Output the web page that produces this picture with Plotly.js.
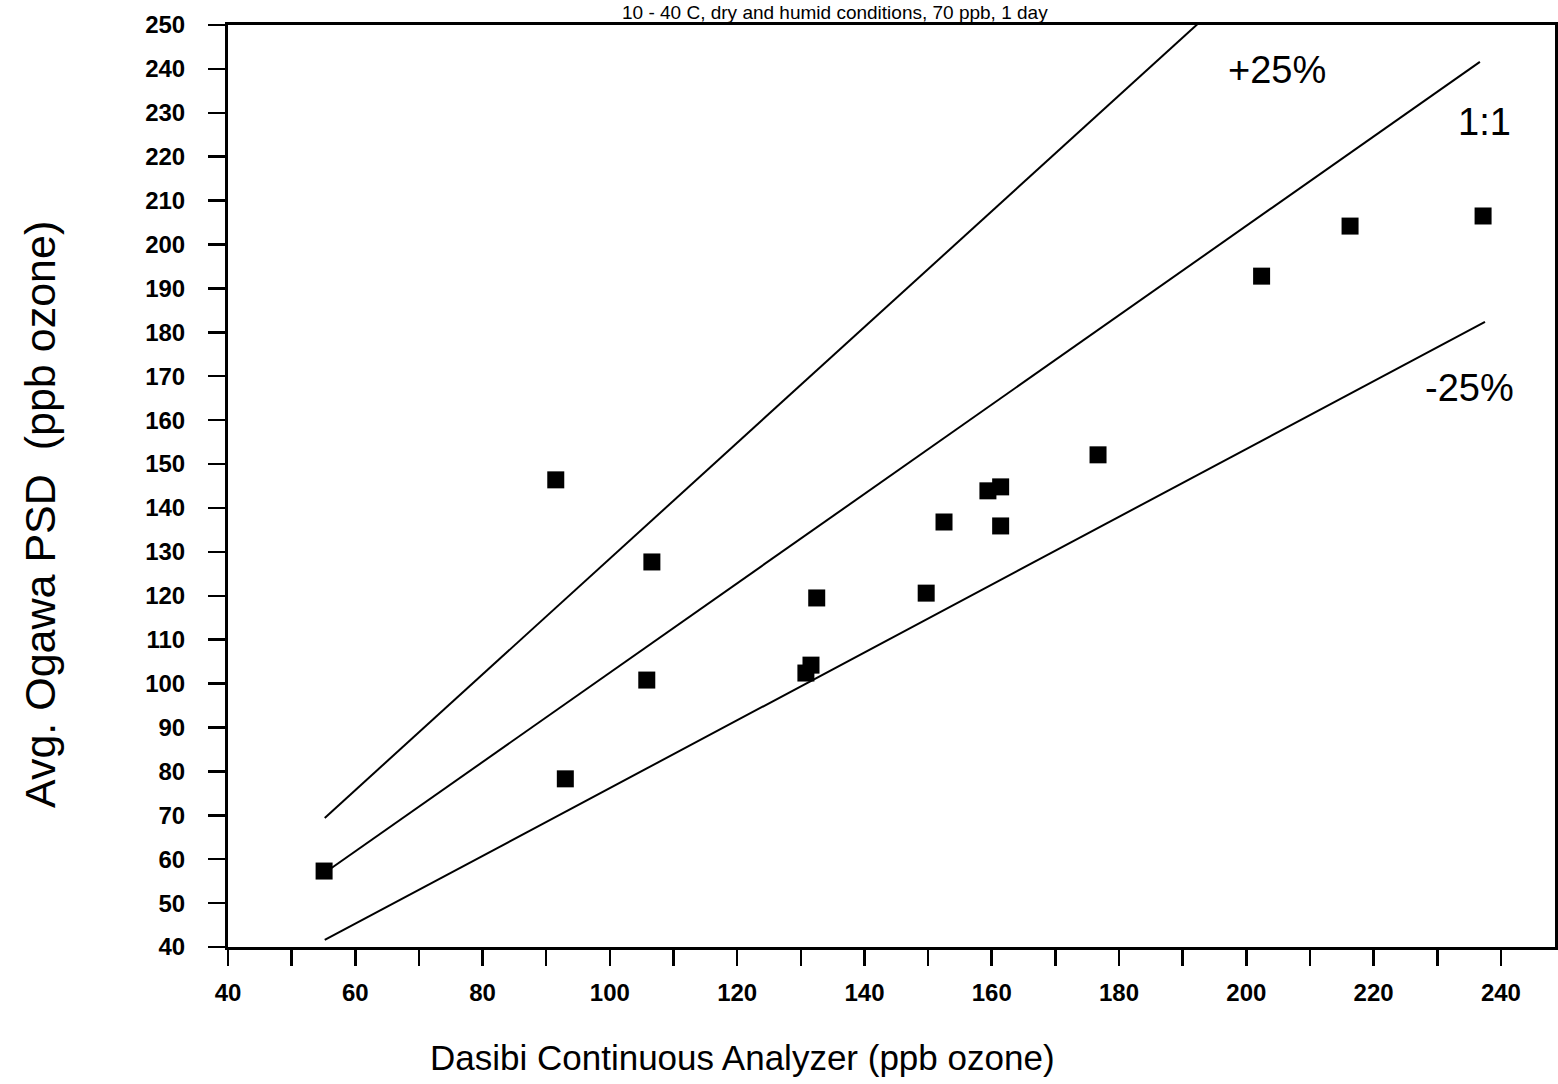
<!DOCTYPE html>
<html>
<head>
<meta charset="utf-8">
<script src="https://cdn.plot.ly/plotly-3.0.1.min.js"></script>
<style>
  html, body { margin: 0; padding: 0; background: #fff; }
  #chart { width: 1558px; height: 1084px; }
</style>
</head>
<body>
<div id="chart"></div>
<script>
// Measured points: Dasibi continuous analyzer (x) vs average Ogawa PSD (y), ppb ozone
const dasibi = [55.1, 91.5, 93.0, 105.8, 106.6, 130.8, 131.6, 132.5, 149.7, 152.5, 159.4, 161.4, 161.4, 176.7, 202.4, 216.3, 237.2];
const ogawa  = [57.3, 146.4, 78.3, 100.8, 127.7, 102.4, 104.2, 119.5, 120.6, 136.8, 143.9, 144.8, 135.9, 152.1, 192.8, 204.2, 206.5];

// Reference lines, end points
const upperX = [55.2, 199.0];
const upperY = [69.4, 259.0];
const oneX   = [55.2, 236.7];
const oneY   = [56.9, 241.6];
const lowerX = [55.2, 237.5];
const lowerY = [41.6, 182.4];

// Line labels
const labelText = ["+25%", "1:1", "-25%"];
const labelX    = [204.8, 237.5, 235.1];
const labelY    = [239.8, 227.9, 167.3];

const titleText  = "10 - 40 C, dry and humid conditions, 70 ppb, 1 day";
const xTitleText = "Dasibi Continuous Analyzer (ppb ozone)";
const yTitleText = "Avg. Ogawa PSD&nbsp;&nbsp;(ppb ozone)";

const FONT = "Liberation Sans, Arial, Helvetica, sans-serif";

// plot area in pixels (for placing the free texts)
const PL = 228, PR = 1555, PT = 25, PB = 947;

const lineStyle = {color: "#000", width: 2};
const traces = [
  {x: upperX, y: upperY, mode: "lines", line: lineStyle, hoverinfo: "skip", name: "+25%"},
  {x: oneX, y: oneY, mode: "lines", line: lineStyle, hoverinfo: "skip", name: "1:1"},
  {x: lowerX, y: lowerY, mode: "lines", line: lineStyle, hoverinfo: "skip", name: "-25%"},
  {x: dasibi, y: ogawa, mode: "markers", name: "data",
   marker: {symbol: "square", size: 17, color: "#000", line: {width: 0}}}
];

const annotations = labelText.map((t, i) => ({
  x: labelX[i], y: labelY[i], xref: "x", yref: "y", text: t, showarrow: false,
  font: {family: FONT, size: 38, color: "#000"}, xanchor: "center", yanchor: "middle"
}));
// chart title (only a strip above the frame is available)
annotations.push({
  x: (835 - PL) / (PR - PL), y: 1, xref: "paper", yref: "paper",
  xanchor: "center", yanchor: "bottom", yshift: 1, showarrow: false, text: titleText,
  font: {family: FONT, size: 19, color: "#000"}, borderpad: 0
});
// x axis title
annotations.push({
  x: (742 - PL) / (PR - PL), y: (PB - 1057) / (PB - PT), xref: "paper", yref: "paper",
  xanchor: "center", yanchor: "middle", showarrow: false, text: xTitleText,
  font: {family: FONT, size: 35, color: "#000"}
});
// y axis title
annotations.push({
  x: (40 - PL) / (PR - PL), y: (PB - 515) / (PB - PT), xref: "paper", yref: "paper",
  xanchor: "center", yanchor: "middle", showarrow: false, text: yTitleText, textangle: -90,
  font: {family: FONT, size: 43, color: "#000"}
});

const layout = {
  width: 1558, height: 1084,
  margin: {l: PL, r: 1558 - PR, t: PT, b: 1084 - PB},
  paper_bgcolor: "#fff", plot_bgcolor: "#fff",
  showlegend: false,
  font: {family: FONT, color: "#000"},
  xaxis: {
    range: [40, 248.5], showgrid: false, zeroline: false,
    showline: true, linecolor: "#000", linewidth: 3, mirror: true,
    ticks: "outside", ticklen: 16, tickwidth: 2.5, tickcolor: "#000",
    tick0: 40, dtick: 20, tickfont: {family: FONT, size: 24, color: "#000", weight: "bold"},
    ticklabelstandoff: 6,
    minor: {dtick: 10, tick0: 40, ticks: "outside", ticklen: 16, tickwidth: 2.5, tickcolor: "#000", showgrid: false}
  },
  yaxis: {
    range: [40, 250], showgrid: false, zeroline: false,
    showline: true, linecolor: "#000", linewidth: 3, mirror: true,
    ticks: "outside", ticklen: 17, tickwidth: 2.5, tickcolor: "#000",
    tick0: 40, dtick: 10, tickfont: {family: FONT, size: 24, color: "#000", weight: "bold"},
    ticklabelstandoff: 18
  },
  annotations: annotations
};

Plotly.newPlot("chart", traces, layout, {displayModeBar: false, staticPlot: true});
</script>
</body>
</html>
